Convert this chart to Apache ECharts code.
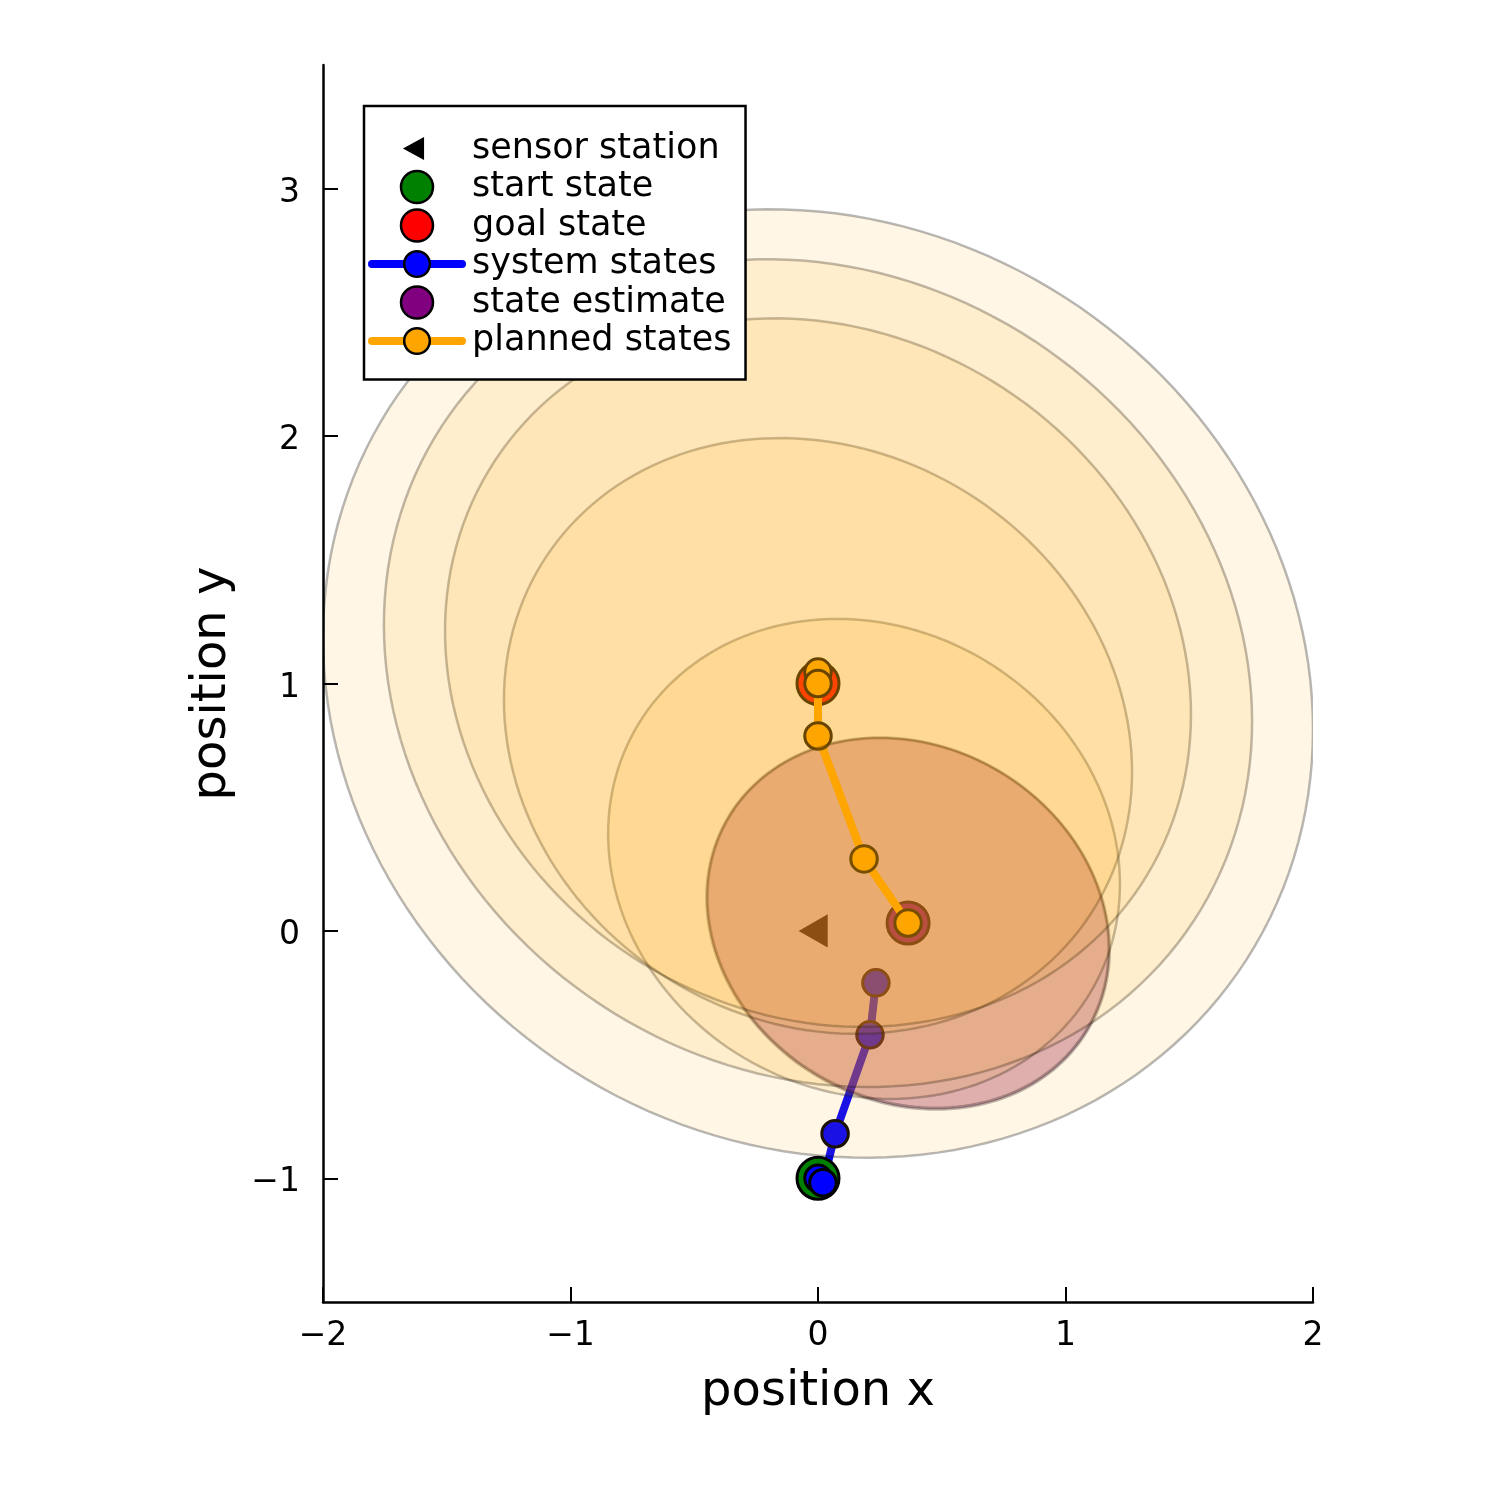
<!DOCTYPE html>
<html>
<head>
<meta charset="utf-8">
<title>planned states</title>
<script src="https://cdn.jsdelivr.net/npm/echarts@6/dist/echarts.min.js"></script>
<style>
  html, body { margin: 0; padding: 0; background: #fff; }
  #main { width: 1499px; height: 1499px; }
</style>
</head>
<body>
<div id="main"></div>
<script>
// values
const sensorStation = [[0, 0]];
const startState = [[0, -1]];
const goalState = [[0, 1]];
const systemStates = [[0, -1], [0.02, -1.018], [0.069, -0.82], [0.21, -0.42], [0.234, -0.21]];
const stateEstimate = [[0.364, 0.032]];
const plannedStates = [[0.364, 0.032], [0.186, 0.291], [0, 0.788], [0, 1.046], [0, 1.0]];

// covariance ellipses: centre, half width, half height, correlation
const estimateEllipse = [[0.364, 0.03, 0.815, 0.752, -0.14]];
const plannedCx = [0.364, 0.186, 0, 0, 0, 0];
const plannedCy = [0.032, 0.291, 0.788, 1.044, 1.042, 1.0];
const plannedHalfW = [0.81, 1.034, 1.269, 1.507, 1.754, 2.0];
const plannedHalfH = [0.747, 0.970, 1.204, 1.432, 1.673, 1.917];
const plannedRho = [-0.14, -0.105, -0.121, -0.118, -0.117, -0.097];

const xTicks = [-2, -1, 0, 1, 2];
const yTicks = [-1, 0, 1, 2, 3];

const plannedEllipses = plannedCx.map((cx, i) =>
  [cx, plannedCy[i], plannedHalfW[i], plannedHalfH[i], plannedRho[i]]);

const FONT = 'DejaVu Sans';
const TRI = 'path://M0,0M100,100M6,50L72,14L72,86Z';

function minusLabel(v) {
  return v < 0 ? '\u2212' + Math.abs(v) : String(v);
}

function ellipseRenderer(fill) {
  return function (params, api) {
    const cx = api.value(0), cy = api.value(1);
    const hw = api.value(2), hh = api.value(3), rho = api.value(4);
    const s = Math.sqrt(1 - rho * rho);
    const points = [];
    for (let k = 0; k < 180; k++) {
      const t = (2 * Math.PI * k) / 180;
      points.push(api.coord([
        cx + hw * Math.cos(t),
        cy + hh * (rho * Math.cos(t) + s * Math.sin(t))
      ]));
    }
    return {
      type: 'polygon',
      shape: { points: points },
      style: { fill: fill, stroke: 'rgba(0,0,0,0.28)', lineWidth: 2.5 }
    };
  };
}

const chart = echarts.init(document.getElementById('main'));

const option = {
  animation: false,
  backgroundColor: '#fff',
  grid: { left: 323, right: 186, top: 65, bottom: 197 },
  legend: {
    orient: 'vertical',
    left: 364,
    top: 106,
    padding: [25, 14, 21, 4],
    backgroundColor: '#fff',
    borderColor: '#000',
    borderWidth: 2.5,
    borderRadius: 0,
    itemWidth: 90,
    itemHeight: 32,
    itemGap: 3.5,
    z: 10,
    selectedMode: false,
    lineStyle: { width: 8, cap: 'round' },
    itemStyle: { borderColor: '#000', borderWidth: 2.5 },
    textStyle: { fontFamily: FONT, fontSize: 35, color: '#000', lineHeight: 32, padding: [0, 0, 0, 5] },
    data: [
      { name: 'sensor station', itemStyle: { borderWidth: 0 } },
      'start state',
      'goal state',
      'system states',
      'state estimate',
      'planned states'
    ]
  },
  xAxis: {
    type: 'value',
    min: -2,
    max: 2,
    interval: 1,
    z: 10,
    name: 'position x',
    nameLocation: 'middle',
    nameGap: 67,
    nameTextStyle: { fontFamily: FONT, fontSize: 48, color: '#000' },
    axisLine: { onZero: false, lineStyle: { color: '#000', width: 2.5 } },
    axisTick: { inside: true, length: 15, lineStyle: { color: '#000', width: 2 } },
    axisLabel: { margin: 18, fontFamily: FONT, fontSize: 33, color: '#000', formatter: minusLabel },
    splitLine: { show: false }
  },
  yAxis: {
    type: 'value',
    min: -1.5,
    max: 3.5,
    z: 10,
    name: 'position y',
    nameLocation: 'middle',
    nameGap: 86,
    nameTextStyle: { fontFamily: FONT, fontSize: 48, color: '#000' },
    axisLine: { show: true, onZero: false, lineStyle: { color: '#000', width: 2.5 } },
    axisTick: { show: true, inside: true, length: 15, customValues: yTicks, lineStyle: { color: '#000', width: 2 } },
    axisLabel: {
      margin: 23, color: '#000', customValues: yTicks,
      formatter: v => '{t|' + minusLabel(v) + '}',
      rich: { t: { fontFamily: FONT, fontSize: 33, color: '#000', padding: [9, 0, 0, 0] } }
    },
    splitLine: { show: false }
  },
  series: [
    {
      name: 'sensor station',
      type: 'scatter',
      z: 2,
      data: sensorStation,
      symbol: TRI,
      symbolSize: [44, 46],
      itemStyle: { color: '#000', opacity: 1 }
    },
    {
      name: 'start state',
      type: 'scatter',
      z: 2,
      data: startState,
      symbol: 'circle',
      symbolSize: 42,
      itemStyle: { color: '#008000', borderColor: '#000', borderWidth: 3, opacity: 1 }
    },
    {
      name: 'goal state',
      type: 'scatter',
      z: 2,
      data: goalState,
      symbol: 'circle',
      symbolSize: 42,
      itemStyle: { color: '#ff0000', borderColor: '#000', borderWidth: 3, opacity: 1 }
    },
    {
      name: 'system states',
      type: 'line',
      z: 2,
      data: systemStates,
      symbol: 'circle',
      symbolSize: 26.5,
      showAllSymbol: true,
      lineStyle: { color: '#0000ff', width: 8, cap: 'round', join: 'round' },
      itemStyle: { color: '#0000ff', borderColor: '#000', borderWidth: 3 }
    },
    {
      name: 'state estimate',
      type: 'scatter',
      z: 2,
      data: stateEstimate,
      symbol: 'circle',
      symbolSize: 42,
      itemStyle: { color: '#800080', borderColor: '#000', borderWidth: 3, opacity: 1 }
    },
    {
      type: 'custom',
      z: 3,
      clip: true,
      silent: true,
      data: estimateEllipse,
      renderItem: ellipseRenderer('rgba(128,0,128,0.3)')
    },
    {
      name: 'planned states',
      type: 'line',
      z: 4,
      data: plannedStates,
      symbol: 'circle',
      symbolSize: 26.5,
      showAllSymbol: true,
      lineStyle: { color: '#ffa500', width: 8, cap: 'round', join: 'round' },
      itemStyle: { color: '#ffa500', borderColor: '#000', borderWidth: 3 }
    },
    {
      type: 'custom',
      z: 5,
      clip: true,
      silent: true,
      data: plannedEllipses,
      renderItem: ellipseRenderer('rgba(255,165,0,0.1)')
    }
  ]
};

chart.setOption(option);
</script>
</body>
</html>
